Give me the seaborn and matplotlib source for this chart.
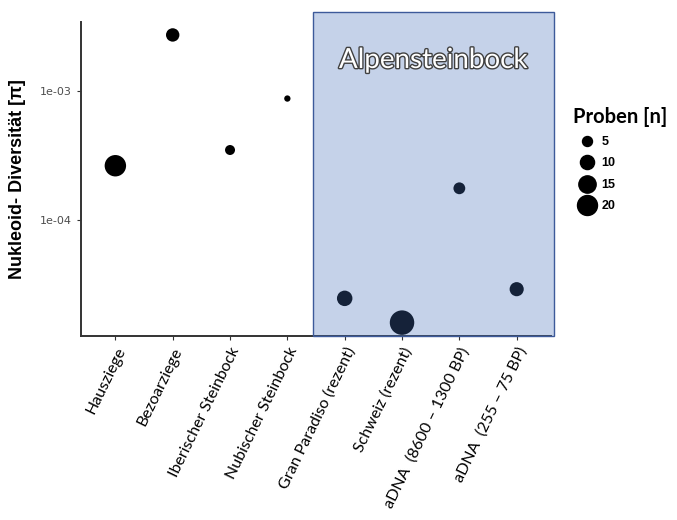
"""Nukleoid-Diversität verschiedener Steinbock-/Ziegenpopulationen."""
import matplotlib
matplotlib.use("Agg")
import matplotlib.pyplot as plt
import matplotlib.patheffects as pe
from matplotlib.lines import Line2D
from matplotlib.patches import Rectangle
import matplotlib.transforms as mtransforms
import numpy as np
import pandas as pd
import seaborn as sns

# --- data -------------------------------------------------------------------
groups = [
    "Hausziege",
    "Bezoarziege",
    "Iberischer Steinbock",
    "Nubischer Steinbock",
    "Gran Paradiso (rezent)",
    "Schweiz (rezent)",
    "aDNA  (8600 – 1300 BP)",
    "aDNA  (255 – 75 BP)",
]
diversity = [2.63e-4, 2.7e-3, 3.48e-4, 8.7e-4, 2.48e-5, 1.61e-5, 1.76e-4, 2.92e-5]
samples = [23, 9, 5, 2, 12, 30, 7, 10]
legend_n = [5, 10, 15, 20]

ALPINE_START, ALPINE_END = 3.45, 7.65   # x-range (category units) of the highlight box

# --- plot -------------------------------------------------------------------
sns.set_style("white")
df = pd.DataFrame({"group": groups, "pi": diversity, "n": samples})

SCALE = 10.35  # marker area (pt^2) per sample
fig = plt.figure(figsize=(6.77, 5.20), dpi=100)
ax = fig.add_axes([0.1196, 0.3538, 0.814 - 0.1196, 0.9577 - 0.3538])

sns.scatterplot(
    data=df, x="group", y="pi", size="n",
    sizes=(0, SCALE * 30), size_norm=(0, 30),
    color="black", edgecolor="none", legend=False, ax=ax, zorder=3,
)

ax.set_yscale("log")
ax.set_ylim(1.268e-5, 3.40e-3)
ax.set_xlim(-0.6, len(groups) - 0.4)
ax.set_yticks([1e-3, 1e-4])
ax.set_yticklabels(["1e-03", "1e-04"])
ax.yaxis.set_minor_locator(matplotlib.ticker.NullLocator())
ax.tick_params(axis="y", labelsize=8, labelcolor="#4d4d4d", color="#333333",
               length=3, width=0.8, left=True)
ax.tick_params(axis="x", color="#333333", length=3, width=0.8, bottom=True)
ax.set_xticks(range(len(groups)))
ax.set_xticklabels(groups, rotation=64, ha="right", rotation_mode="anchor",
                   fontsize=11.5, family="Lato", color="black")

for side in ("top", "right"):
    ax.spines[side].set_visible(False)
for side in ("left", "bottom"):
    ax.spines[side].set_color("#333333")
    ax.spines[side].set_linewidth(1.4)

ax.set_xlabel("")
ax.set_ylabel("Nukleoid- Diversität [π]", fontsize=13, fontweight="bold",
              family="Liberation Sans", color="black", labelpad=10)

# highlight box for the Alpine ibex
trans = mtransforms.blended_transform_factory(ax.transData, ax.transAxes)
ax.add_patch(Rectangle((ALPINE_START, 0), ALPINE_END - ALPINE_START, 1.032,
                       transform=trans, facecolor="#4470BB", alpha=0.31,
                       edgecolor="none", zorder=4, clip_on=False))
ax.add_patch(Rectangle((ALPINE_START, 0), ALPINE_END - ALPINE_START, 1.032,
                       transform=trans, facecolor="none", edgecolor="#3D5A9A",
                       linewidth=1.0, zorder=5, clip_on=False))
ax.text((ALPINE_START + ALPINE_END) / 2, 0.879, "Alpensteinbock", transform=trans,
        ha="center", va="center", fontsize=20, family="Lato", color="white",
        zorder=6,
        path_effects=[pe.withStroke(linewidth=2.0, foreground="#404040")])

# size legend
handles = [Line2D([], [], marker="o", linestyle="", color="black",
                  markersize=np.sqrt(SCALE * v)) for v in legend_n]
leg = fig.legend(handles, [str(v) for v in legend_n], title="Proben [n]",
                 loc="upper left", bbox_to_anchor=(564 / 677, 1 - 98 / 520),
                 frameon=False, handletextpad=0.1, labelspacing=0.75,
                 borderpad=0.2, handlelength=2.2, labelcolor="black",
                 prop={"weight": "bold", "size": 9, "family": "Liberation Sans"})
leg.get_title().set_fontweight("bold")
leg.get_title().set_fontsize(14.5)
leg.get_title().set_family("Lato")
leg.get_title().set_color("black")
leg._legend_box.align = "left"

fig.savefig("out.png", dpi=100)
